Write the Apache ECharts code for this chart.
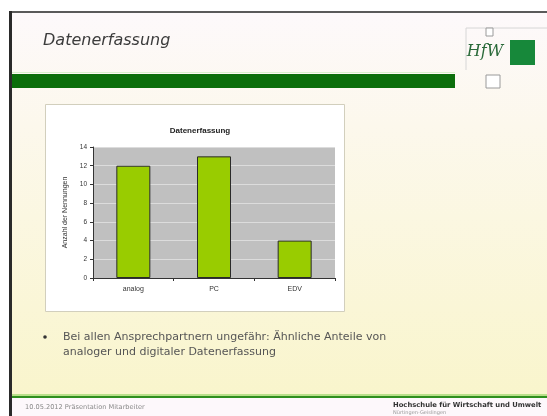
<!DOCTYPE html>
<html>
<head>
<meta charset="utf-8">
<script src="https://cdn.jsdelivr.net/npm/echarts@6/dist/echarts.min.js"></script>
<style>
  html, body { margin: 0; padding: 0; background: #ffffff; }
  #main { width: 547px; height: 416px; }
</style>
</head>
<body>
<div id="main"></div>
<script>
// Survey answers: how data is captured
const categories = ['analog', 'PC', 'EDV'];
const counts = [12, 13, 4];
const yTicks = [0, 2, 4, 6, 8, 10, 12, 14];

const chartTitle = 'Datenerfassung';
const yAxisName = 'Anzahl der Nennungen';
const slideTitle = 'Datenerfassung';
const bulletLines = [
  'Bei allen Ansprechpartnern ungefähr: Ähnliche Anteile von',
  'analoger und digitaler Datenerfassung'
];
const footerLeft = '10.05.2012 Präsentation Mitarbeiter';
const footerRight = 'Hochschule für Wirtschaft und Umwelt';
const footerRightSub = 'Nürtingen-Geislingen';

const chart = echarts.init(document.getElementById('main'), null, { renderer: 'canvas' });

// slide decoration drawn behind the chart
const deco = [
  // slide body with soft white-to-cream gradient
  { type: 'rect', z: -100, shape: { x: 11, y: 12, width: 536, height: 384 },
    style: { fill: new echarts.graphic.LinearGradient(0, 0, 0, 1, [
      { offset: 0, color: '#fdf9fb' },
      { offset: 0.3, color: '#fcf8ec' },
      { offset: 1, color: '#f9f5cc' }
    ]) } },
  // footer strip
  { type: 'rect', z: -100, shape: { x: 11, y: 398, width: 536, height: 18 },
    style: { fill: '#fdf8fb' } },
  // frame lines
  { type: 'rect', z: -90, shape: { x: 10, y: 11, width: 537, height: 2 }, style: { fill: '#5a5a5a' } },
  { type: 'rect', z: -90, shape: { x: 9, y: 11, width: 3, height: 405 }, style: { fill: '#2a2a2a' } },
  // title bar
  { type: 'rect', z: -90, shape: { x: 12, y: 72, width: 443, height: 1 }, style: { fill: '#d9f0cc' } },
  { type: 'rect', z: -90, shape: { x: 12, y: 74, width: 443, height: 14 }, style: { fill: '#0b6e0b' } },
  // footer rule
  { type: 'rect', z: -90, shape: { x: 12, y: 394, width: 535, height: 2 }, style: { fill: '#b9e08a' } },
  { type: 'rect', z: -90, shape: { x: 12, y: 396, width: 535, height: 2 }, style: { fill: '#2f8f1e' } },
  // logo
  { type: 'line', z: -90, shape: { x1: 466, y1: 28, x2: 547, y2: 28 }, style: { stroke: '#d6d6d6', lineWidth: 1 } },
  { type: 'line', z: -90, shape: { x1: 466, y1: 28, x2: 466, y2: 70 }, style: { stroke: '#d6d6d6', lineWidth: 1 } },
  { type: 'rect', z: -90, shape: { x: 486, y: 28, width: 7, height: 8 }, style: { fill: '#ffffff', stroke: '#9a9a9a', lineWidth: 1 } },
  { type: 'rect', z: -90, shape: { x: 486, y: 75, width: 14, height: 13 }, style: { fill: '#ffffff', stroke: '#9a9a9a', lineWidth: 1 } },
  { type: 'rect', z: -90, shape: { x: 510, y: 40, width: 25, height: 25 }, style: { fill: '#17883a' } },
  { type: 'text', z: -90, x: 485, y: 52,
    style: { text: 'HfW', fill: '#2a6a3a', font: 'italic 16px "DejaVu Serif"', align: 'center', verticalAlign: 'middle' } },
  // slide title
  { type: 'text', z: -90, x: 43, y: 41,
    style: { text: slideTitle, fill: '#3c3c3c', font: 'italic 16px "DejaVu Sans"', align: 'left', verticalAlign: 'middle' } },
  // chart frame
  { type: 'rect', z: -80, shape: { x: 45.5, y: 104.5, width: 299, height: 207 },
    style: { fill: '#ffffff', stroke: '#d2cfbd', lineWidth: 1 } },
  // bullet text
  { type: 'circle', z: -80, shape: { cx: 45, cy: 337, r: 1.8 }, style: { fill: '#333333' } },
  { type: 'text', z: -80, x: 63, y: 337,
    style: { text: bulletLines[0], fill: '#555555', font: '11px "DejaVu Sans"', align: 'left', verticalAlign: 'middle' } },
  { type: 'text', z: -80, x: 63, y: 352,
    style: { text: bulletLines[1], fill: '#555555', font: '11px "DejaVu Sans"', align: 'left', verticalAlign: 'middle' } },
  // footer
  { type: 'text', z: -80, x: 25, y: 407,
    style: { text: footerLeft, fill: '#8a8a8a', font: '6.6px "DejaVu Sans"', align: 'left', verticalAlign: 'middle' } },
  { type: 'text', z: -80, x: 393, y: 405,
    style: { text: footerRight, fill: '#333333', font: 'bold 6.8px "DejaVu Sans"', align: 'left', verticalAlign: 'middle' } },
  { type: 'text', z: -80, x: 393, y: 413,
    style: { text: footerRightSub, fill: '#9a9a9a', font: '5px "DejaVu Sans"', align: 'left', verticalAlign: 'middle' } }
];

chart.setOption({
  animation: false,
  backgroundColor: '#ffffff',
  title: {
    text: chartTitle,
    left: 195, top: 122, textAlign: 'center',
    textStyle: { fontFamily: 'Liberation Sans', fontSize: 8, fontWeight: 'bold', color: '#222222' }
  },
  graphic: { elements: deco },
  grid: {
    left: 93, right: 212, top: 147, bottom: 138,
    show: true, backgroundColor: '#c0c0c0', borderWidth: 0
  },
  xAxis: {
    type: 'category',
    data: categories,
    axisLine: { show: true, lineStyle: { color: '#333333', width: 1 } },
    axisTick: { show: true, alignWithLabel: false, length: 3, lineStyle: { color: '#333333' } },
    axisLabel: { fontFamily: 'Liberation Sans', fontSize: 7, color: '#333333', margin: 8 }
  },
  yAxis: {
    type: 'value',
    min: 0, max: yTicks[yTicks.length - 1], interval: 2,
    name: yAxisName,
    nameLocation: 'middle',
    nameGap: 24,
    nameRotate: 90,
    nameTextStyle: { fontFamily: 'Liberation Sans', fontSize: 7, color: '#333333' },
    axisLine: { show: true, lineStyle: { color: '#333333', width: 1 } },
    axisTick: { show: true, length: 3, lineStyle: { color: '#333333' } },
    axisLabel: { fontFamily: 'Liberation Sans', fontSize: 6.5, color: '#333333', margin: 6,
      formatter: v => yTicks.indexOf(v) >= 0 ? String(v) : '' },
    splitLine: { show: true, lineStyle: { color: '#dcdcdc', width: 1 } }
  },
  series: [{
    type: 'bar',
    data: counts,
    barWidth: 34,
    itemStyle: { color: '#99cc00', borderColor: '#2a2a2a', borderWidth: 1 },
    silent: true
  }]
});
</script>
</body>
</html>
